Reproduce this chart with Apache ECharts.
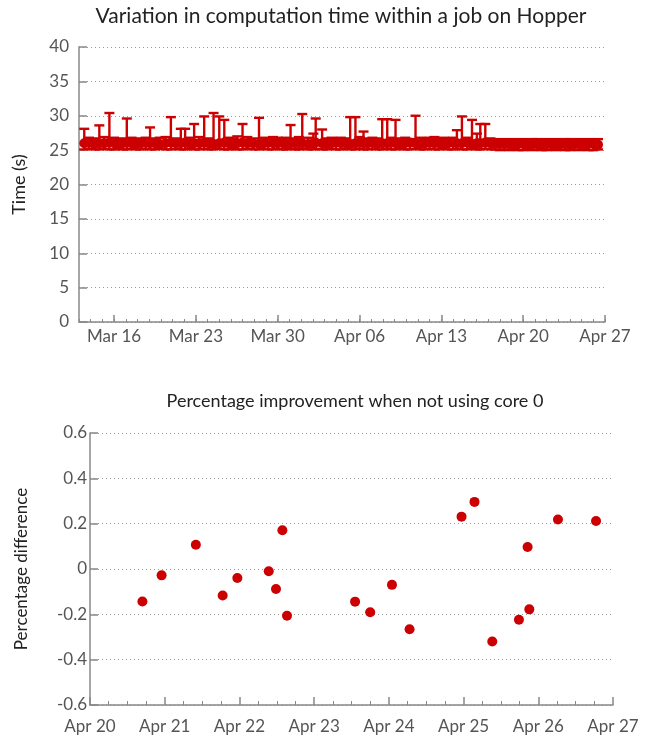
<!DOCTYPE html>
<html><head><meta charset="utf-8">
<script src="https://cdn.jsdelivr.net/npm/echarts@6/dist/echarts.min.js"></script>
<style>html,body{margin:0;padding:0;background:#fff}#c{width:664px;height:740px}</style>
</head><body><div id="c"></div>
<script>
// ---------- Top chart data: jobs (days after Mar 13), min / mean / max time (s)
const jobDays = [0.45,0.85,1.3,1.74,2.15,2.6,3.0,3.4,3.75,4.09,
4.5,4.9,5.3,5.7,6.08,6.5,6.9,7.4,7.86,8.3,
8.71,9.08,9.5,9.85,10.3,10.71,11.1,11.51,12.0,12.43,
12.8,13.2,13.54,13.99,14.4,14.9,15.4,15.8,16.2,16.6,
17.0,17.4,17.7,18.1,18.5,18.8,19.1,19.6,20.05,20.25,
20.8,21.2,21.6,22.0,22.4,22.8,23.2,23.65,24.0,24.34,
24.7,25.1,25.5,25.94,26.37,26.7,27.08,27.5,27.9,28.3,
28.79,29.2,29.6,30.0,30.4,30.8,31.2,31.6,32.0,32.33,
32.76,33.2,33.62,34.04,34.33,34.76,35.2,35.6,36.0,36.4,
36.8,37.2,37.6,38.0,38.4,38.8,39.2,39.6,40.0,40.4,
40.8,41.2,41.6,42.0,42.4,42.8,43.2,43.6,44.0,44.4];
const jobMax = [28.1,26.8,26.7,28.6,26.9,30.4,26.8,26.6,26.7,29.6,
26.8,26.7,26.6,26.8,28.3,26.7,26.8,26.9,29.8,26.7,
28.1,28.1,26.8,28.8,26.9,29.9,26.7,30.4,29.9,29.4,
26.8,26.7,27.0,28.8,26.9,26.7,29.7,26.8,26.7,26.9,
26.8,26.6,26.8,28.65,26.7,26.9,30.25,26.8,27.4,29.6,
28.0,26.7,26.8,26.6,26.8,26.7,29.8,29.8,26.9,27.7,
26.7,26.8,26.7,29.5,29.5,26.8,29.4,26.7,26.8,26.6,
30.0,26.8,26.7,26.8,26.9,26.7,26.8,26.6,26.8,27.9,
29.9,26.8,29.4,27.4,28.8,28.8,26.7,26.6,26.5,26.6,
26.5,26.6,26.5,26.6,26.5,26.6,26.6,26.5,26.6,26.5,
26.6,26.5,26.6,26.6,26.5,26.6,26.5,26.6,26.5,26.6];
const jobMin = [25.1,25.2,25.1,25.1,25.2,25.1,25.1,25.2,25.1,25.1,
25.2,25.1,25.1,25.2,25.1,25.1,25.2,25.1,25.1,25.2,
25.1,25.1,25.2,25.1,25.1,25.2,25.1,25.1,25.2,25.1,
25.1,25.2,25.1,25.1,25.2,25.1,25.1,25.2,25.1,25.1,
25.2,25.1,25.1,25.2,25.1,25.1,25.2,25.1,25.1,25.2,
25.1,25.1,25.2,25.1,25.1,25.2,25.1,25.1,25.2,25.1,
25.1,25.2,25.1,25.1,25.2,25.1,25.1,25.2,25.1,25.1,
25.2,25.1,25.1,25.2,25.1,25.1,25.2,25.1,25.1,25.2,
25.1,25.1,25.2,25.1,25.1,25.2,25.1,25.1,25.0,25.1,
25.0,25.1,25.0,25.0,25.1,25.0,25.1,25.0,25.0,25.1,
25.0,25.1,25.0,25.0,25.1,25.0,25.1,25.0,25.0,25.1];
const jobMean = [26.0,26.1,25.9,26.0,26.0,26.1,26.0,25.9,26.0,26.1,
26.0,25.9,26.0,26.1,26.0,26.0,25.9,26.0,26.1,26.0,
26.0,26.1,25.9,26.0,26.0,26.1,26.0,25.9,26.0,26.1,
26.0,25.9,26.0,26.1,26.0,26.0,25.9,26.0,26.1,26.0,
26.0,26.1,25.9,26.0,26.0,26.1,26.0,25.9,26.0,26.1,
26.0,25.9,26.0,26.1,26.0,26.0,25.9,26.0,26.1,26.0,
26.0,26.1,25.9,26.0,26.0,26.1,26.0,25.9,26.0,26.1,
26.0,25.9,26.0,26.1,26.0,26.0,25.9,26.0,26.1,26.0,
26.0,26.1,25.9,26.0,26.0,26.1,26.0,25.9,25.9,25.9,
25.9,25.8,25.9,25.9,25.8,25.9,25.9,25.8,25.9,25.9,
25.8,25.9,25.9,25.8,25.9,25.9,25.8,25.9,25.9,25.8];
const topTickLabels = ['Mar 16','Mar 23','Mar 30','Apr 06','Apr 13','Apr 20','Apr 27'];
const topYTicks = [0,5,10,15,20,25,30,35,40];

// ---------- Bottom chart data
const diffTimes = ['2012-04-20 16:50','2012-04-20 23:00','2012-04-21 10:00','2012-04-21 18:37','2012-04-21 23:20',
'2012-04-22 09:25','2012-04-22 11:45','2012-04-22 13:48','2012-04-22 15:17','2012-04-23 13:09',
'2012-04-23 18:00','2012-04-24 01:00','2012-04-24 06:39','2012-04-24 23:21','2012-04-25 03:31',
'2012-04-25 09:13','2012-04-25 17:47','2012-04-25 20:34','2012-04-25 21:07','2012-04-26 06:19','2012-04-26 18:33'];
const diffValues = [-0.143,-0.028,0.107,-0.117,-0.040,-0.010,-0.088,0.171,-0.206,-0.144,
-0.191,-0.070,-0.266,0.231,0.296,-0.320,-0.224,0.097,-0.178,0.218,0.212];
const bottomTickLabels = ['Apr 20','Apr 21','Apr 22','Apr 23','Apr 24','Apr 25','Apr 26','Apr 27'];

// ---------- helpers
const DAY = 86400000;
const MON = ['Jan','Feb','Mar','Apr','May','Jun','Jul','Aug','Sep','Oct','Nov','Dec'];
function utc(s){ const [d,t]=s.split(' '); const [Y,M,D]=d.split('-').map(Number); const [h,m]=(t||'00:00').split(':').map(Number); return Date.UTC(Y,M-1,D,h,m); }
function lbl(v){ const d=new Date(v); const dd=d.getUTCDate(); return MON[d.getUTCMonth()]+' '+(dd<10?'0'+dd:dd); }
function parseLbl(s){ const [m,d]=s.split(' '); return Date.UTC(2012, MON.indexOf(m), Number(d)); }

const topStart = Date.UTC(2012,2,13), topEnd = Date.UTC(2012,3,27);
const topMajor = topTickLabels.map(parseLbl);
const topMinor = []; for (let t=topStart; t<=topEnd; t+=DAY) topMinor.push(t);
const botStart = parseLbl(bottomTickLabels[0]), botEnd = parseLbl(bottomTickLabels[bottomTickLabels.length-1]);

const RED = '#cc0000';
const FONT = 'Lato';
const LBL = {color:'#555', fontFamily:FONT, fontSize:17};
const AXISLINE = {show:true, onZero:false, lineStyle:{color:'#888', width:1.5}};
const GRIDLINE = {show:true, lineStyle:{color:'#999', type:[1,3], width:1}};

const errData = jobDays.map((d,i)=>[topStart + d*DAY, jobMin[i], jobMax[i]]);
const meanData = jobDays.map((d,i)=>[topStart + d*DAY, jobMean[i]]);
const diffData = diffTimes.map((s,i)=>[utc(s), diffValues[i]]);

const chart = echarts.init(document.getElementById('c'), null, {renderer:'canvas'});
chart.setOption({
  animation:false,
  title:[
    {text:'Variation in computation time within a job on Hopper', left:336, top:1, textAlign:'center',
     textStyle:{fontFamily:FONT, fontSize:21, fontWeight:'normal', color:'#222'}},
    {text:'Percentage improvement when not using core 0', left:350, top:387, textAlign:'center',
     textStyle:{fontFamily:FONT, fontSize:18, fontWeight:'normal', color:'#222'}}
  ],
  grid:[
    {left:79, top:47, width:526, height:275},
    {left:90, top:433, width:523, height:272}
  ],
  xAxis:[
    {type:'value', gridIndex:0, position:'bottom', min:topStart, max:topEnd,
     axisLine:AXISLINE, splitLine:{show:false},
     axisTick:{show:true, inside:true, length:7, customValues:topMajor, lineStyle:{color:'#888', width:1.5}},
     axisLabel:{...LBL, margin:6, customValues:topMajor, formatter:lbl}},
    {type:'value', gridIndex:0, position:'bottom', min:topStart, max:topEnd,
     axisLine:{show:false, onZero:false}, splitLine:{show:false}, axisLabel:{show:false},
     axisTick:{show:true, inside:true, length:3, customValues:topMinor, lineStyle:{color:'#888', width:1}}},
    {type:'value', gridIndex:1, position:'bottom', min:botStart, max:botEnd, interval:DAY,
     axisLine:AXISLINE, splitLine:{show:false},
     axisTick:{show:true, inside:true, length:8, lineStyle:{color:'#888', width:1.5}},
     minorTick:{show:true, splitNumber:4, length:4, lineStyle:{color:'#888', width:1}},
     axisLabel:{...LBL, margin:13, formatter:lbl}}
  ],
  yAxis:[
    {type:'value', gridIndex:0, min:topYTicks[0], max:topYTicks[topYTicks.length-1], interval:5,
     name:'Time (s)', nameLocation:'middle', nameGap:51,
     nameTextStyle:{fontFamily:FONT, fontSize:18, color:'#222'},
     axisLine:AXISLINE, splitLine:GRIDLINE,
     axisTick:{show:true, inside:true, length:8, lineStyle:{color:'#888', width:1.5}},
     axisLabel:{...LBL, margin:10}},
    {type:'value', gridIndex:1, min:-0.6, max:0.6, interval:0.2,
     name:'Percentage difference', nameLocation:'middle', nameGap:60,
     nameTextStyle:{fontFamily:FONT, fontSize:17, color:'#222'},
     axisLine:AXISLINE, splitLine:GRIDLINE,
     axisTick:{show:true, inside:true, length:8, lineStyle:{color:'#888', width:1.5}},
     axisLabel:{...LBL, margin:3, formatter:v=>String(Math.round(v*10)/10)}}
  ],
  series:[
    {type:'custom', xAxisIndex:0, yAxisIndex:0, data:errData, clip:true,
     renderItem:function(params, api){
       const x=api.value(0), lo=api.value(1), hi=api.value(2);
       const a=api.coord([x,lo]), b=api.coord([x,hi]); const hw=5;
       const st={stroke:RED, lineWidth:2.4};
       return {type:'group', children:[
         {type:'line', shape:{x1:a[0],y1:a[1],x2:b[0],y2:b[1]}, style:st},
         {type:'line', shape:{x1:a[0]-hw,y1:a[1],x2:a[0]+hw,y2:a[1]}, style:st},
         {type:'line', shape:{x1:b[0]-hw,y1:b[1],x2:b[0]+hw,y2:b[1]}, style:st}
       ]};
     }},
    {type:'scatter', xAxisIndex:0, yAxisIndex:0, data:meanData, symbol:'circle', symbolSize:10,
     itemStyle:{color:RED, opacity:1}},
    {type:'scatter', xAxisIndex:2, yAxisIndex:1, data:diffData, symbol:'circle', symbolSize:10,
     itemStyle:{color:RED, opacity:1}}
  ]
});
</script></body></html>
